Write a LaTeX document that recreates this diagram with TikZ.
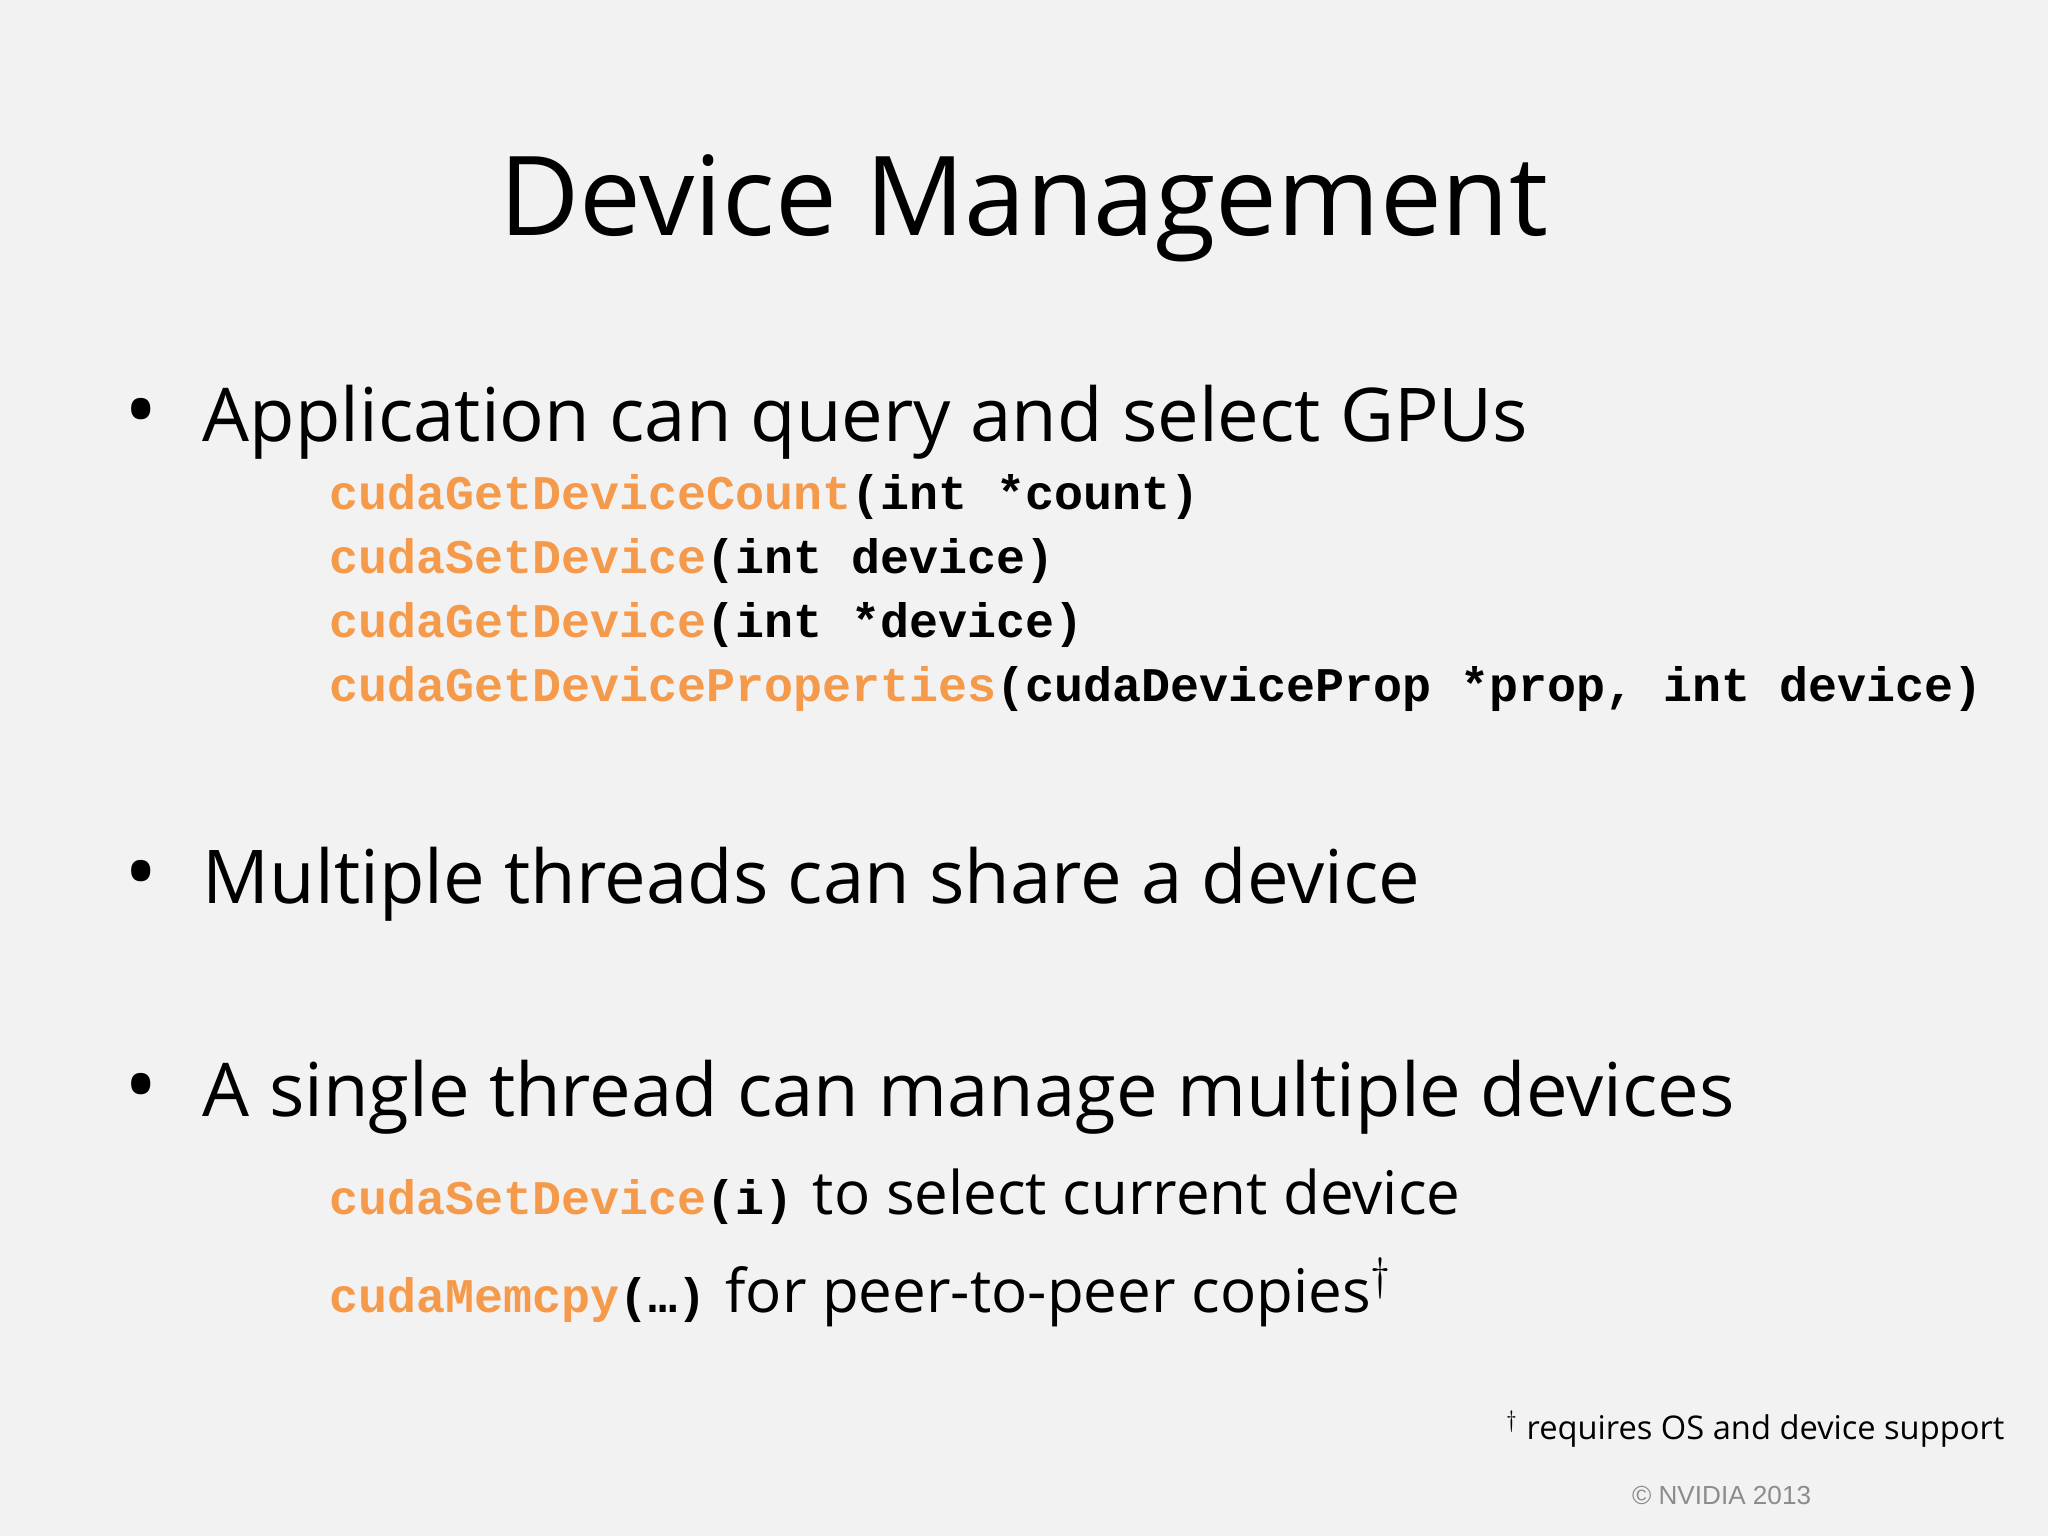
\documentclass[tikz,border=0pt]{standalone}
\usepackage{fontspec}
\setmainfont{Open Sans}
\newfontfamily\codef{Liberation Mono}
\newfontfamily\arialf{Liberation Sans}
\definecolor{bg}{HTML}{F3F2F3}
\definecolor{cuda}{HTML}{F59A4A}
\definecolor{cr}{HTML}{8C8C8C}
\tikzset{
  txt/.style={anchor=base west, inner sep=0pt},
  bul/.style={txt, font=\fontsize{28.4}{34}\selectfont},
  dot/.style={txt, font=\fontsize{34}{40}\selectfont},
  code/.style={txt, font=\codef\bfseries\fontsize{18.5}{20}\selectfont},
  sub/.style={txt, font=\fontsize{23}{27}\selectfont},
}
\newcommand{\fn}[1]{\textcolor{cuda}{#1}}
\begin{document}
\begin{tikzpicture}[x=0.5pt,y=-0.5pt]
\fill[bg] (0,0) rectangle (1568,1176);
\useasboundingbox (0,0) rectangle (1568,1176);
\node[txt, anchor=base, font=\fontsize{42.2}{48}\selectfont] (title) at (784,180) {Device Management};
\node[dot] (b1d) at (95,338) {•};
\node[bul] (b1) at (155,338) {Application can query and select GPUs};
\node[code] (c1) at (252,390) {\fn{cudaGetDeviceCount}(int *count)};
\node[code] (c2) at (252,439) {\fn{cudaSetDevice}(int device)};
\node[code] (c3) at (252,488) {\fn{cudaGetDevice}(int *device)};
\node[code] (c4) at (252,537) {\fn{cudaGetDeviceProperties}(cudaDeviceProp *prop, int device)};
\node[dot] (b2d) at (95,692) {•};
\node[bul] (b2) at (155,692) {Multiple threads can share a device};
\node[dot] (b3d) at (95,855) {•};
\node[bul] (b3) at (155,855) {A single thread can manage multiple devices};
\node[code] (s1c) at (252,930) {\fn{cudaSetDevice}(i)};
\node[sub] (s1) at (622,930) {to select current device};
\node[code] (s2c) at (252,1005) {\fn{cudaMemcpy}(…)};
\node[sub] (s2) at (555,1005) {for peer-to-peer copies$^\dagger$};
\node[txt, anchor=base east, font=\fontsize{12.5}{15}\selectfont] (fn) at (1535,1102) {$^\dagger$ requires OS and device support};
\node[txt, anchor=base east, font=\arialf\fontsize{10}{12}\selectfont, text=cr] (copy) at (1387,1152) {© NVIDIA 2013};
\end{tikzpicture}
\end{document}
